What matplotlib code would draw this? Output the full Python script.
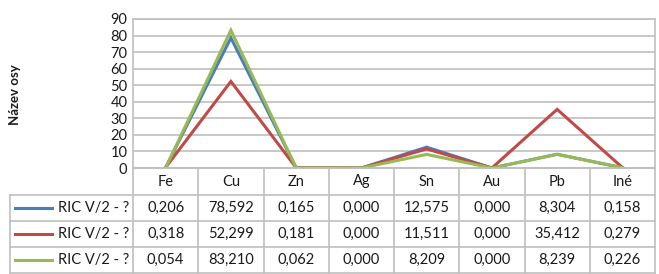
import matplotlib.pyplot as plt
from matplotlib.lines import Line2D

plt.rcParams['font.family'] = ['Lato', 'DejaVu Sans']

categories = ['Fe', 'Cu', 'Zn', 'Ag', 'Sn', 'Au', 'Pb', 'Iné']
series_names = ['RIC V/2 - ?', 'RIC V/2 - ?', 'RIC V/2 - ?']
blue_vals = [0.206, 78.592, 0.165, 0.000, 12.575, 0.000, 8.304, 0.158]
red_vals = [0.318, 52.299, 0.181, 0.000, 11.511, 0.000, 35.412, 0.279]
green_vals = [0.054, 83.210, 0.062, 0.000, 8.209, 0.000, 8.239, 0.226]
y_ticks = [0, 10, 20, 30, 40, 50, 60, 70, 80, 90]
colors = ['#4a7ebb', '#be4b48', '#98b954']

W, H = 659, 274
fig = plt.figure(figsize=(W / 100, H / 100), dpi=100)
txt_col = '#1a1a1a'
fs = 10.5

# plot area in pixels
px_l, px_r, px_t, px_b = 133, 655, 19, 168
ax = fig.add_axes([px_l / W, 1 - px_b / H, (px_r - px_l) / W, (px_b - px_t) / H])
n = len(categories)
ax.set_xlim(-0.5, n - 0.5)
ax.set_ylim(0, 90)
ax.set_yticks(y_ticks)
ax.set_xticks([])
ax.tick_params(axis='y', length=0, labelsize=fs, pad=4, labelcolor=txt_col)
for t in y_ticks:
    ax.axhline(t, color='#bfbfbf', lw=1.2, zorder=0)
for s in ax.spines.values():
    s.set_color('#bfbfbf')
    s.set_linewidth(1.2)

for vals, c in zip([blue_vals, red_vals, green_vals], colors):
    ax.plot(range(n), vals, color=c, lw=2.2, solid_joinstyle='miter', zorder=3)

fig.text(15 / W, 1 - 95 / H, 'Název osy', rotation=90, ha='center', va='center',
         fontsize=9.5, fontweight='bold', color=txt_col)


def fx(x):
    return x / W


def fy(y):
    return 1 - y / H


def hline(x0, x1, y):
    fig.add_artist(Line2D([fx(x0), fx(x1)], [fy(y), fy(y)], color='#bfbfbf', lw=1.2))


def vline(x, y0, y1):
    fig.add_artist(Line2D([fx(x), fx(x)], [fy(y0), fy(y1)], color='#bfbfbf', lw=1.2))


# data table
col_w = (px_r - px_l) / n
row_edges = [168, 195, 221, 247, 273]
lab_l = 10
hline(px_l, px_r, row_edges[0])
for y in row_edges[1:]:
    hline(lab_l, px_r, y)
vline(lab_l, row_edges[1], row_edges[-1])
for i in range(n + 1):
    vline(px_l + i * col_w, row_edges[0], row_edges[-1])

for i, cat in enumerate(categories):
    xc = px_l + (i + 0.5) * col_w
    fig.text(fx(xc), fy((row_edges[0] + row_edges[1]) / 2), cat,
             ha='center', va='center', fontsize=fs, color=txt_col)

for r, (vals, c, name) in enumerate(zip([blue_vals, red_vals, green_vals], colors, series_names)):
    yc = (row_edges[r + 1] + row_edges[r + 2]) / 2
    fig.add_artist(Line2D([fx(15), fx(52)], [fy(yc), fy(yc)], color=c, lw=2.2))
    fig.text(fx(129), fy(yc), name, ha='right', va='center', fontsize=fs, color=txt_col)
    for i, v in enumerate(vals):
        xc = px_l + (i + 0.5) * col_w
        fig.text(fx(xc), fy(yc), f'{v:.3f}'.replace('.', ','),
                 ha='center', va='center', fontsize=fs, color=txt_col)

fig.savefig('out.png', dpi=100)
